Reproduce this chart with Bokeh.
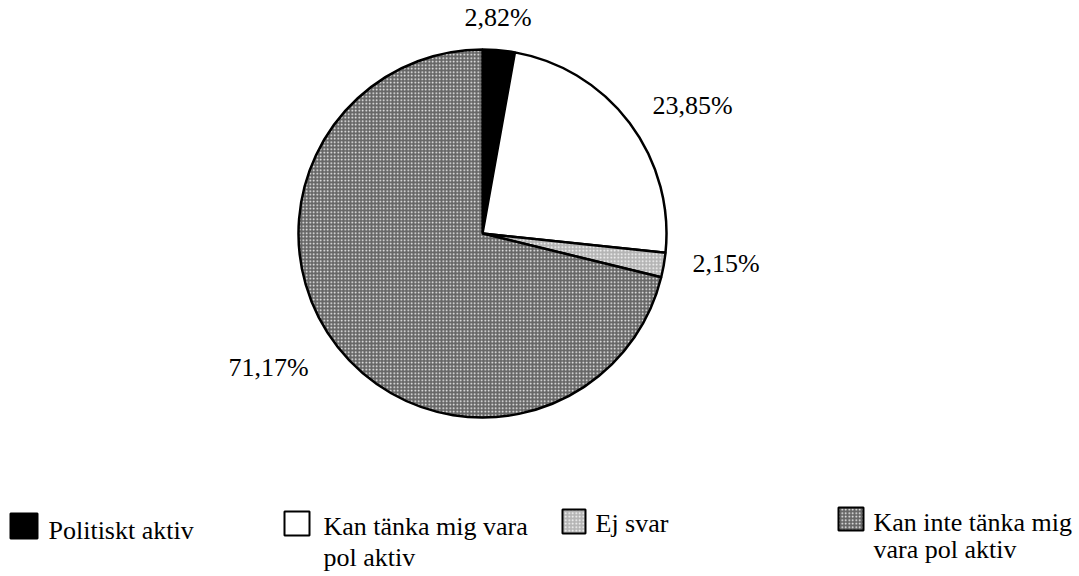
import numpy as np
from bokeh.plotting import figure
from bokeh.models import Range1d
from bokeh.core.properties import value
from bokeh.embed import file_html
from bokeh.resources import INLINE

# ---- data ----
categories = ["Politiskt aktiv", "Kan tänka mig vara pol aktiv", "Ej svar", "Kan inte tänka mig vara pol aktiv"]
legend_labels = ["Politiskt aktiv", "Kan tänka mig vara\npol aktiv", "Ej svar", "Kan inte tänka mig\nvara pol aktiv"]
percentages = [2.82, 23.85, 2.15, 71.17]
pct_labels = ["2,82%", "23,85%", "2,15%", "71,17%"]

# ---- styles ----
fills = ["#000000", "#ffffff", "#b4b4b4", "#666666"]
hatches = [None, None, "dot", "dot"]
hatch_colors = ["black", "black", "#ffffff", "#ffffff"]

W, H = 1079, 576
p = figure(width=W, height=H, output_backend="svg", toolbar_location=None,
           x_range=Range1d(0, W), y_range=Range1d(0, H), min_border=0)
p.axis.visible = False
p.grid.visible = False
p.outline_line_color = None

def X(px):
    return px
def Y(py):
    return H - py

FONT = value("Liberation Serif")
FS = "26px"

cx, cy, r = X(482), Y(233), 184
frac = np.array(percentages) / sum(percentages)
cum = np.concatenate([[0], np.cumsum(frac)])
starts = np.pi / 2 - 2 * np.pi * cum[:-1]
ends = np.pi / 2 - 2 * np.pi * cum[1:]

for i in range(len(categories)):
    kw = dict(x=cx, y=cy, radius=r, start_angle=starts[i], end_angle=ends[i],
              direction="clock", fill_color=fills[i], line_color="black", line_width=2.5)
    if hatches[i]:
        kw.update(hatch_pattern=hatches[i], hatch_color=hatch_colors[i], hatch_scale=3.5, hatch_weight=1.5)
    p.wedge(**kw)

# percentage labels (left x, middle y)
lab_pos = [(464, 17), (652, 105), (692, 263), (228, 367)]
for (lx, ly), t in zip(lab_pos, pct_labels):
    p.text(x=[X(lx)], y=[Y(ly)], text=[t], text_font=FONT, text_font_size=FS,
           text_align="left", text_baseline="middle", text_color="black")

# legend: box (x0, y0, x1, y1), text left x, middle y per line
boxes = [(10, 513, 37, 538), (284, 511, 309, 535), (562, 509, 585, 533), (838, 507, 863, 530)]
txt_x = [48, 323, 595, 873]
mids = [[530], [526], [523], [522]]
line_step = [0, 31, 0, 27]
for i in range(len(categories)):
    x0, y0, x1, y1 = boxes[i]
    kw = dict(x=[X((x0 + x1) / 2)], y=[Y((y0 + y1) / 2)], width=x1 - x0, height=y1 - y0,
              fill_color=fills[i], line_color="black", line_width=2)
    if hatches[i]:
        kw.update(hatch_pattern=hatches[i], hatch_color=hatch_colors[i], hatch_scale=3.5, hatch_weight=1.5)
    p.rect(**kw)
    for k, line in enumerate(legend_labels[i].split("\n")):
        my = mids[i][0] + k * line_step[i]
        p.text(x=[X(txt_x[i])], y=[Y(my)], text=[line], text_font=FONT, text_font_size=FS,
               text_align="left", text_baseline="middle", text_color="black")

open("out.html", "w").write(file_html(p, INLINE))
